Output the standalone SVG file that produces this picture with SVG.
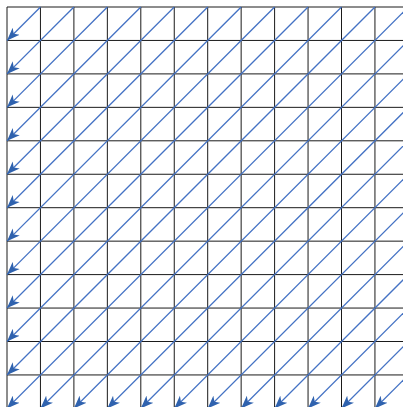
<svg xmlns="http://www.w3.org/2000/svg" width="403" height="407" viewBox="0 0 403 407">
<defs>
<style>
.grid{stroke:#1a1a1a;stroke-width:1;fill:none}
.diag{stroke:#4472C4;stroke-width:1.3;fill:none;marker-end:url(#arr)}
</style>
<marker id="arr" markerUnits="userSpaceOnUse" markerWidth="14" markerHeight="11" refX="13" refY="5.5" orient="auto" viewBox="0 0 14 11">
<path d="M0,0.5 L13,5.5 L0,10.5 L3.5,5.5 Z" fill="#2F62AE"/>
</marker>
</defs>
<rect width="403" height="407" fill="#ffffff"/>
<g id="grid" class="grid">
<path d="M7,7V408.4 M40.45,7V408.4 M73.9,7V408.4 M107.35,7V408.4 M140.8,7V408.4 M174.25,7V408.4 M207.7,7V408.4 M241.15,7V408.4 M274.6,7V408.4 M308.05,7V408.4 M341.5,7V408.4 M374.95,7V408.4 M408.4,7V408.4"/>
<path d="M7,7H408.4 M7,40.45H408.4 M7,73.9H408.4 M7,107.35H408.4 M7,140.8H408.4 M7,174.25H408.4 M7,207.7H408.4 M7,241.15H408.4 M7,274.6H408.4 M7,308.05H408.4 M7,341.5H408.4 M7,374.95H408.4 M7,408.4H408.4"/>
</g>
<g id="connectors">
<path class="diag" d="M40.45,7L7,40.45"/>
<path class="diag" d="M73.9,7L7,73.9"/>
<path class="diag" d="M107.35,7L7,107.35"/>
<path class="diag" d="M140.8,7L7,140.8"/>
<path class="diag" d="M174.25,7L7,174.25"/>
<path class="diag" d="M207.7,7L7,207.7"/>
<path class="diag" d="M241.15,7L7,241.15"/>
<path class="diag" d="M274.6,7L7,274.6"/>
<path class="diag" d="M308.05,7L7,308.05"/>
<path class="diag" d="M341.5,7L7,341.5"/>
<path class="diag" d="M374.95,7L7,374.95"/>
<path class="diag" d="M408.4,7L7,408.4"/>
<path class="diag" d="M408.4,40.45L40.45,408.4"/>
<path class="diag" d="M408.4,73.9L73.9,408.4"/>
<path class="diag" d="M408.4,107.35L107.35,408.4"/>
<path class="diag" d="M408.4,140.8L140.8,408.4"/>
<path class="diag" d="M408.4,174.25L174.25,408.4"/>
<path class="diag" d="M408.4,207.7L207.7,408.4"/>
<path class="diag" d="M408.4,241.15L241.15,408.4"/>
<path class="diag" d="M408.4,274.6L274.6,408.4"/>
<path class="diag" d="M408.4,308.05L308.05,408.4"/>
<path class="diag" d="M408.4,341.5L341.5,408.4"/>
<path class="diag" d="M408.4,374.95L374.95,408.4"/>
</g>
</svg>
